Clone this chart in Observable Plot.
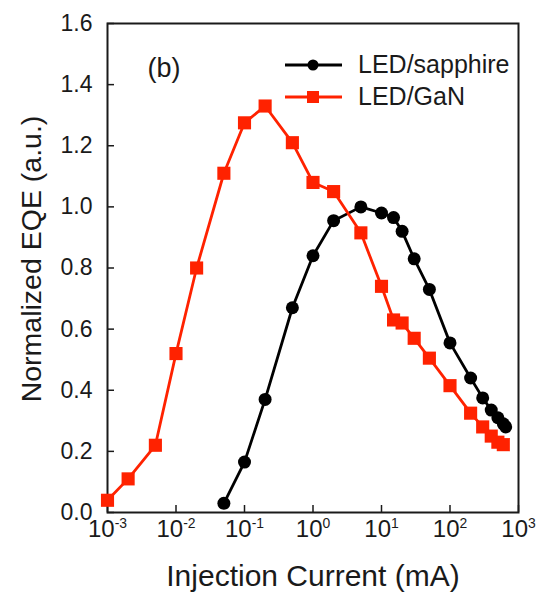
<!DOCTYPE html>
<html>
<head>
<meta charset="utf-8">
<script src="https://cdn.jsdelivr.net/npm/d3@7"></script>
<script src="https://cdn.jsdelivr.net/npm/@observablehq/plot@0.6"></script>
<style>
  html, body { margin: 0; padding: 0; background: #fff; }
  #chart svg { display: block; }
</style>
</head>
<body>
<div id="chart"></div>
<script>
// ---- data ----
const sapphireCurrent = [0.05, 0.1, 0.2, 0.5, 1, 2, 5, 10, 15, 20, 30, 50, 100, 200, 300, 400, 500, 600, 650];
const sapphireEQE     = [0.03, 0.165, 0.37, 0.67, 0.84, 0.955, 1.0, 0.98, 0.965, 0.92, 0.83, 0.73, 0.555, 0.44, 0.375, 0.335, 0.31, 0.29, 0.28];

const ganCurrent = [0.001, 0.002, 0.005, 0.01, 0.02, 0.05, 0.1, 0.2, 0.5, 1, 2, 5, 10, 15, 20, 30, 50, 100, 200, 300, 400, 500, 600];
const ganEQE     = [0.04, 0.11, 0.22, 0.52, 0.80, 1.11, 1.275, 1.33, 1.21, 1.08, 1.05, 0.915, 0.74, 0.63, 0.62, 0.57, 0.505, 0.415, 0.325, 0.28, 0.25, 0.23, 0.222];

const seriesNames = ["LED/sapphire", "LED/GaN"];
const yTicks = [0, 0.2, 0.4, 0.6, 0.8, 1.0, 1.2, 1.4, 1.6];
const xTicks = [1e-3, 1e-2, 1e-1, 1e0, 1e1, 1e2, 1e3];
const xTitle = "Injection Current (mA)";
const yTitle = "Normalized EQE (a.u.)";
const panelLabel = "(b)";

const RED = "#ff2200";
const BLACK = "#000000";

const sapphire = sapphireCurrent.map((c, i) => ({I: c, eqe: sapphireEQE[i]}));
const gan = ganCurrent.map((c, i) => ({I: c, eqe: ganEQE[i]}));

const FONT = "'Liberation Sans', Arial, Helvetica, sans-serif";

const chart = Plot.plot({
  width: 543,
  height: 601,
  marginLeft: 107,
  marginRight: 25,
  marginTop: 23,
  marginBottom: 89,
  style: {fontFamily: FONT, background: "#fff", color: "#1a1a1a"},
  x: {type: "log", domain: [1e-3, 1e3]},
  y: {domain: [0, 1.6]},
  marks: [
    Plot.axisY(yTicks, {
      tickSize: -7, tickPadding: 22, fontSize: 23, strokeWidth: 1.5,
      tickFormat: d => d.toFixed(1), label: null
    }),
    Plot.axisX(xTicks, {
      tickSize: -7, tickPadding: 14, fontSize: 24, strokeWidth: 1.5,
      tickFormat: d => "10^" + Math.round(Math.log10(d)), label: null
    }),
    Plot.frame({stroke: "#1a1a1a", strokeWidth: 2}),
    Plot.line(sapphire, {x: "I", y: "eqe", stroke: BLACK, strokeWidth: 2.8}),
    Plot.dot(sapphire, {x: "I", y: "eqe", r: 6.5, fill: BLACK, symbol: "circle"}),
    Plot.line(gan, {x: "I", y: "eqe", stroke: RED, strokeWidth: 2.8}),
    Plot.dot(gan, {x: "I", y: "eqe", r: 7.4, fill: RED, symbol: "square"}),
    Plot.text([panelLabel], {
      frameAnchor: "top-left", dx: 40, dy: 53, lineAnchor: "bottom",
      textAnchor: "start", fontSize: 27, fill: "#1a1a1a"
    }),
    Plot.text([xTitle], {
      frameAnchor: "bottom", dy: 73, lineAnchor: "bottom", textAnchor: "middle",
      fontSize: 30, fill: "#1a1a1a"
    }),
    Plot.text([yTitle], {
      frameAnchor: "left", dx: -76, dy: -9, rotate: -90, lineAnchor: "middle",
      textAnchor: "middle", fontSize: 28.5, fill: "#1a1a1a"
    })
  ]
});

// superscript exponents on x tick labels
d3.select(chart).selectAll('g[aria-label="x-axis tick label"] text').each(function () {
  const t = this.textContent;
  const parts = t.split("^");
  this.textContent = "";
  const sel = d3.select(this);
  sel.append("tspan").text(parts[0]);
  sel.append("tspan").attr("font-size", "0.58em").attr("dy", "-0.62em").text(parts[1]);
});

// legend
const legend = d3.select(chart).append("g").attr("font-family", FONT).attr("text-anchor", "start");
const rows = [
  {name: seriesNames[0], color: BLACK, shape: "circle", y: 65},
  {name: seriesNames[1], color: RED, shape: "square", y: 97}
];
rows.forEach(r => {
  legend.append("line").attr("x1", 285).attr("x2", 342).attr("y1", r.y).attr("y2", r.y)
    .attr("stroke", r.color).attr("stroke-width", 2.8);
  if (r.shape === "circle") {
    legend.append("circle").attr("cx", 313).attr("cy", r.y).attr("r", 5.5).attr("fill", r.color);
  } else {
    legend.append("rect").attr("x", 313 - 6).attr("y", r.y - 6).attr("width", 12).attr("height", 12).attr("fill", r.color);
  }
  legend.append("text").attr("x", 358).attr("y", r.y + 8).attr("font-size", 25)
    .attr("text-anchor", "start").attr("fill", "#1a1a1a").text(r.name);
});

document.getElementById("chart").appendChild(chart);
</script>
</body>
</html>
